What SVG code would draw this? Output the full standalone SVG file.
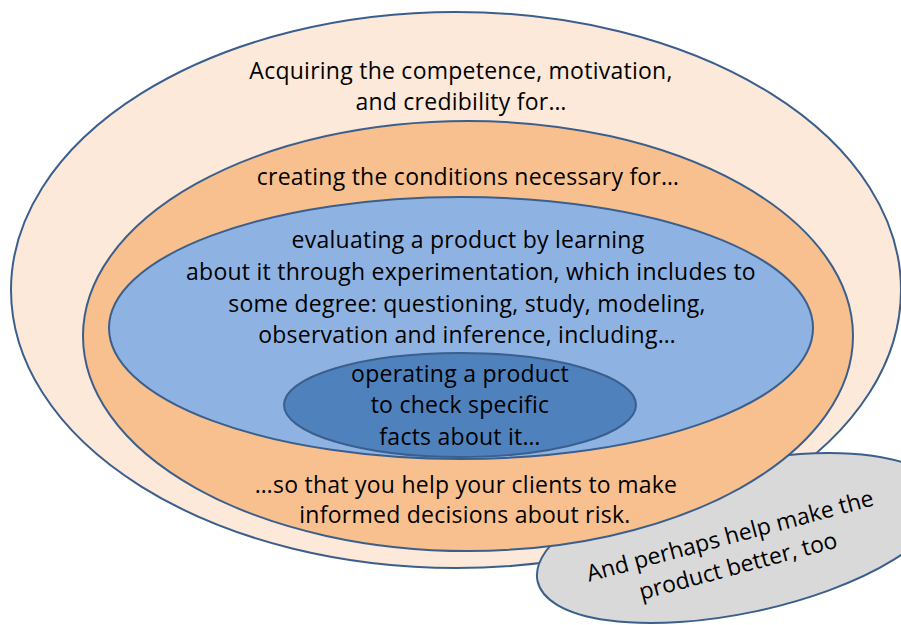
<svg xmlns="http://www.w3.org/2000/svg" width="901" height="625" viewBox="0 0 901 625">
<style>
.ring{stroke:#3b5f8c;stroke-width:2}
text{font-family:"Open Sans","Liberation Sans",Arial,sans-serif;font-size:23px;fill:#000;text-anchor:middle;letter-spacing:0.25px}
#better text{letter-spacing:0}
</style>
<rect width="901" height="625" fill="#fff"/>
<g id="outer">
<ellipse class="ring" cx="456" cy="290" rx="445" ry="278" fill="#fde9da"/>
<text x="461" y="79">Acquiring the competence, motivation,</text>
<text x="461" y="110">and credibility for…</text>
</g>
<g id="better">
<ellipse class="ring" cx="0" cy="0" rx="207" ry="75" fill="#d9d9d9" transform="translate(740,538) rotate(-12)"/>
<g transform="translate(736,558.5) rotate(-15)">
<text x="0" y="-15.5">And perhaps help make the</text>
<text x="0" y="15.5">product better, too</text>
</g>
</g>
<g id="conditions">
<ellipse class="ring" cx="468" cy="336" rx="385" ry="215" fill="#f9c08f"/>
<text x="468" y="185">creating the conditions necessary for…</text>
<text x="466" y="493">…so that you help your clients to make</text>
<text x="465" y="523">informed decisions about risk.</text>
</g>
<g id="evaluating">
<ellipse class="ring" cx="461" cy="328" rx="352" ry="131" fill="#8eb3e2"/>
<text x="468" y="248">evaluating a product by learning</text>
<text x="471" y="280">about it through experimentation, which includes to</text>
<text x="467" y="312">some degree: questioning, study, modeling,</text>
<text x="467" y="343">observation and inference, including…</text>
</g>
<g id="operating">
<ellipse class="ring" cx="460" cy="405" rx="176" ry="52" fill="#4f81bd"/>
<text x="460" y="382">operating a product</text>
<text x="460" y="413">to check specific</text>
<text x="460" y="445">facts about it…</text>
</g>
<g id="connectors"></g>
</svg>
